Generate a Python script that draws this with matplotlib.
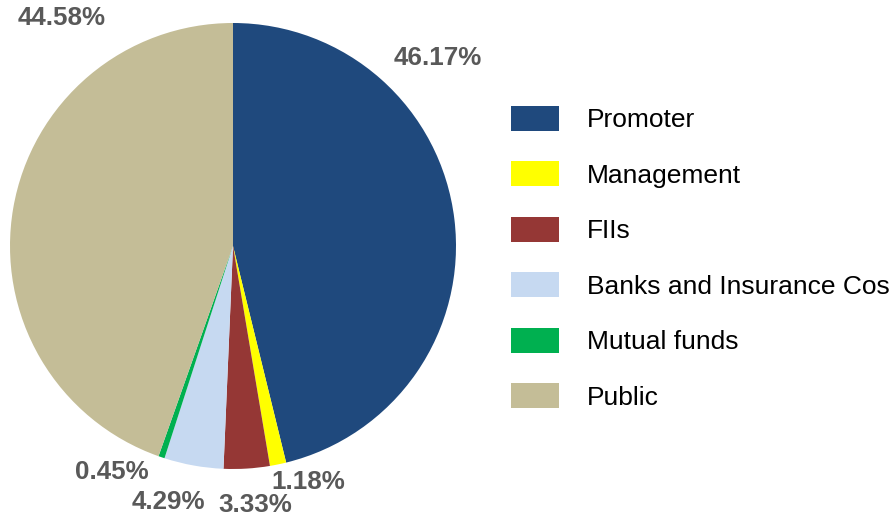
import matplotlib.pyplot as plt

plt.rcParams['font.family'] = ['Liberation Sans', 'DejaVu Sans']

categories = ["Promoter", "Management", "FIIs", "Banks and Insurance Cos",
              "Mutual funds", "Public"]
shares = [46.17, 1.18, 3.33, 4.29, 0.45, 44.58]
colors = ["#1F497D", "#FFFF00", "#953735", "#C6D9F1", "#00B050", "#C4BD97"]
# label spots around the pie (axes data units, radius = 1)
label_pos = [(0.919, 0.843), (0.336, -1.058), (0.099, -1.162),
             (-0.291, -1.148), (-0.543, -1.013), (-0.767, 1.022)]

fig = plt.figure(figsize=(8.89, 5.18), dpi=100)
ax = fig.add_axes([10 / 889, 49 / 518, 446 / 889, 446 / 518])

wedges, _ = ax.pie(shares, colors=colors, startangle=90, counterclock=False,
                   radius=1)
ax.set_xlim(-1, 1)
ax.set_ylim(-1, 1)

for val, (x, y) in zip(shares, label_pos):
    ax.text(x, y, f"{val:.2f}%", ha="center", va="center", fontsize=18.7,
            fontweight="bold", color="#595959", clip_on=False)

fig.legend(wedges, categories, loc="upper left",
           bbox_to_anchor=(511 / 889, 1 - 106 / 518), frameon=False,
           fontsize=19, handlelength=1.82, handleheight=1.07,
           handletextpad=1.06, labelspacing=1.1, borderpad=0,
           borderaxespad=0)

fig.savefig("out.png", dpi=100)
